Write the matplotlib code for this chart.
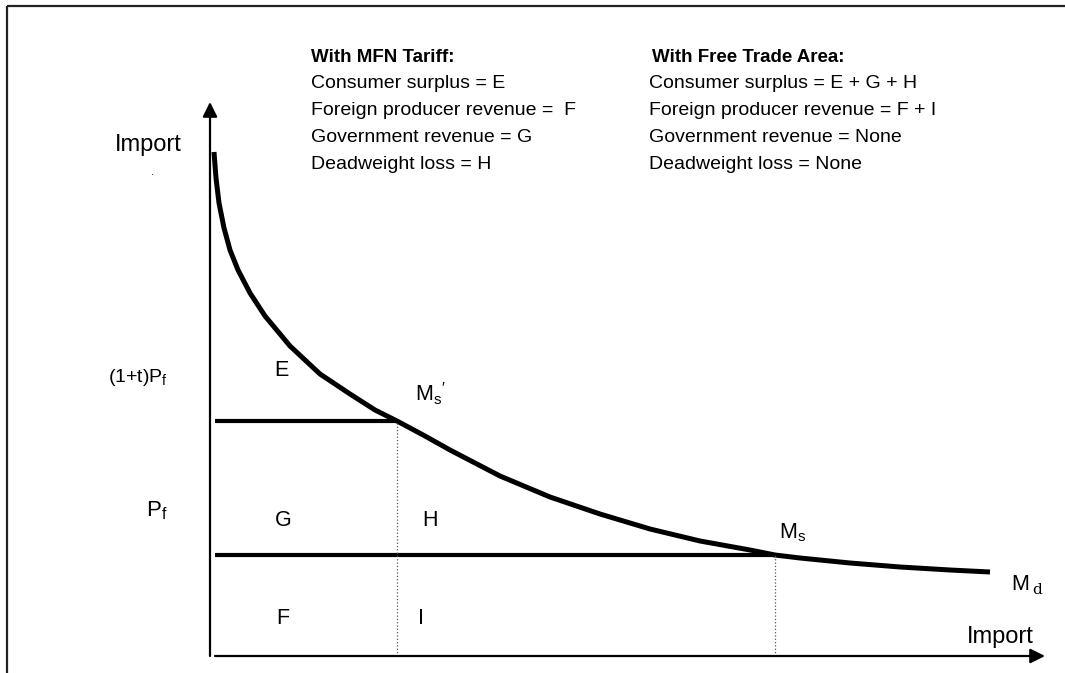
import matplotlib
matplotlib.use("Agg")
import matplotlib.pyplot as plt

plt.rcParams['font.family'] = ['Liberation Sans', 'DejaVu Sans']
plt.rcParams['mathtext.fontset'] = 'custom'
plt.rcParams['mathtext.rm'] = 'Liberation Sans'

# Import demand curve M_d (quantity, price)
demand_qty = [4, 6, 9, 14, 20, 28, 40, 55, 80, 110, 140, 165, 187, 215, 240,
              290, 340, 390, 440, 490, 540, 565, 590, 640, 690, 740, 780]
demand_price = [504, 478, 453, 428, 406, 386, 363, 340, 310, 282, 262, 246, 235,
                220, 206, 180, 159, 142, 127, 115, 106, 101, 98, 93, 89, 86, 84]

tariff_price = 235      # (1+t)Pf
world_price = 101       # Pf
qty_tariff = 187        # Ms'
qty_free = 565          # Ms

mfn_title = "With MFN Tariff:"
mfn_lines = ["Consumer surplus = E", "Foreign producer revenue =  F",
             "Government revenue = G", "Deadweight loss = H"]
fta_title = "With Free Trade Area:"
fta_lines = ["Consumer surplus = E + G + H", "Foreign producer revenue = F + I",
             "Government revenue = None", "Deadweight loss = None"]

W, H = 1065, 673
fig = plt.figure(figsize=(W / 100, H / 100), dpi=100)

# overlay axes in pixel coordinates for frame and annotation text
ov = fig.add_axes([0, 0, 1, 1])
ov.set_xlim(0, W)
ov.set_ylim(H, 0)
ov.axis('off')
ov.plot([7, W + 5], [6, 6], color='#222222', lw=1.6, solid_capstyle='butt')
ov.plot([7, 7], [6, H + 5], color='#222222', lw=1.6, solid_capstyle='butt')

# data axes: origin at pixel (210, 656)
x0, y0 = 210, 656
xr, yr = 840, 560
ax = fig.add_axes([x0 / W, (H - y0) / H, xr / W, yr / H])
ax.set_xlim(0, xr)
ax.set_ylim(0, yr)
ax.axis('off')

# axes with arrows
ax.annotate('', xy=(0, 554), xytext=(0, 0),
            arrowprops=dict(arrowstyle='-|>', color='black', lw=1.6,
                            mutation_scale=22, shrinkA=0, shrinkB=0))
ax.annotate('', xy=(835, 0), xytext=(5, 0),
            arrowprops=dict(arrowstyle='-|>', color='black', lw=1.6,
                            mutation_scale=22, shrinkA=0, shrinkB=0))

# demand curve
ax.plot(demand_qty, demand_price, color='black', lw=3.6,
        solid_joinstyle='round', solid_capstyle='butt')

# price lines
ax.plot([5, qty_tariff], [tariff_price, tariff_price], color='black', lw=3.0,
        solid_capstyle='butt')
ax.plot([5, qty_free], [world_price, world_price], color='black', lw=3.0,
        solid_capstyle='butt')

# dotted verticals
ax.plot([qty_tariff, qty_tariff], [0, tariff_price], color='#555555', lw=0.9, ls=':')
ax.plot([qty_free, qty_free], [0, world_price], color='#555555', lw=0.9, ls=':')

# axis labels
ov.text(148, 145, "Import", fontsize=17, ha='center', va='center')
ov.text(152, 172, ".", fontsize=8, ha='center', va='center')
ov.text(108, 378, r"(1+t)P$_\mathregular{f}$", fontsize=14, ha='left', va='center')
ov.text(146, 511, r"P$_\mathregular{f}$", fontsize=16, ha='left', va='center')
ov.text(1000, 637, "Import", fontsize=17, ha='center', va='center')

# area labels
fs = 15.5
for lab, (px, py) in {"E": (281, 370), "G": (283, 521), "H": (430, 521),
                      "F": (283, 618), "I": (421, 618)}.items():
    ov.text(px, py, lab, fontsize=fs, ha='center', va='center')

# curve point labels
ov.text(415, 394, r"M$_\mathregular{s}$$'$", fontsize=fs, ha='left', va='center')
ov.text(779, 533, r"M$_\mathregular{s}$", fontsize=fs, ha='left', va='center')
ov.text(1011, 584, "M", fontsize=fs, ha='left', va='center')
ov.text(1032, 590, "d", fontsize=11, ha='left', va='center', family='DejaVu Serif')

# info text blocks
tfs = 14
ov.text(311, 58, mfn_title, fontsize=13.5, fontweight='bold', ha='left', va='center')
ov.text(652, 58, fta_title, fontsize=13.5, fontweight='bold', ha='left', va='center')
for i, (a, b) in enumerate(zip(mfn_lines, fta_lines)):
    yy = 84 + i * 26.7
    ov.text(311, yy, a, fontsize=tfs, ha='left', va='center')
    ov.text(649, yy, b, fontsize=tfs, ha='left', va='center')

fig.savefig("out.png", dpi=100)
